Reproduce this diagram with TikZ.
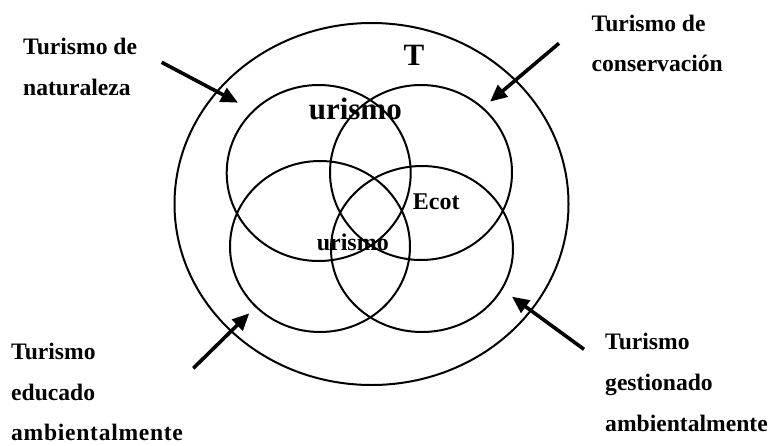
\documentclass[tikz,border=0pt]{standalone}
\usepackage{fontspec}
\setmainfont{Liberation Serif}
\usetikzlibrary{arrows.meta}
\tikzset{
  ring/.style={draw=black, line width=2pt},
  pointer/.style={draw=black, line width=3.6pt, -{Triangle[length=17pt,width=15pt]}},
  lbl/.style={anchor=base west, inner sep=0pt, font=\fontsize{23.6}{28}\selectfont\bfseries},
  bigtxt/.style={anchor=base, inner sep=0pt, font=\fontsize{31}{36}\selectfont\bfseries},
  midtxt/.style={anchor=base, inner sep=0pt, font=\fontsize{24}{28}\selectfont\bfseries}
}
\begin{document}
\begin{tikzpicture}[x=1pt,y=-1pt]
\useasboundingbox (0,0) rectangle (771,445);
% outer ellipse
\draw[ring] (371.5,204) ellipse [x radius=197, y radius=181];
% four inner circles
\draw[ring] (318.7,173) ellipse [x radius=92, y radius=88];
\draw[ring] (421,172.5) ellipse [x radius=91, y radius=87.5];
\draw[ring] (320,246.5) ellipse [x radius=90, y radius=85.5];
\draw[ring] (422,249) ellipse [x radius=91, y radius=83];
% center texts
\node[bigtxt] (tT) at (414,65) {T};
\node[bigtxt] (tU1) at (355.3,119) {urismo};
\node[midtxt] (tE) at (436.2,209.3) {Ecot};
\node[midtxt] (tU2) at (352.8,250) {urismo};
% labels
\node[lbl] (nat1) at (23,54) {Turismo de};
\node[lbl] (nat2) at (23,95) {naturaleza};
\node[lbl] (con1) at (591.5,31.7) {Turismo de};
\node[lbl] (con2) at (591.5,71.7) {conservación};
\node[lbl] (edu1) at (11,359.5) {Turismo};
\node[lbl] (edu2) at (11,400.5) {educado};
\node[lbl] (edu3) at (11,440) {\addfontfeature{LetterSpace=3}ambientalmente};
\node[lbl] (ges1) at (605,349) {Turismo};
\node[lbl] (ges2) at (605,390) {gestionado};
\node[lbl] (ges3) at (605,431.5) {ambientalmente};
% arrow endpoints
\coordinate (a1s) at (161.7,62.3);
\coordinate (a1e) at (238,102.7);
\coordinate (a2s) at (559,43.3);
\coordinate (a2e) at (490,101.7);
\coordinate (a3s) at (193.3,368.3);
\coordinate (a3e) at (249.3,313.3);
\coordinate (a4s) at (584,349.3);
\coordinate (a4e) at (512,296.7);
\draw[pointer] (a1s) -- (a1e);
\draw[pointer] (a2s) -- (a2e);
\draw[pointer] (a3s) -- (a3e);
\draw[pointer] (a4s) -- (a4e);
\end{tikzpicture}
\end{document}
